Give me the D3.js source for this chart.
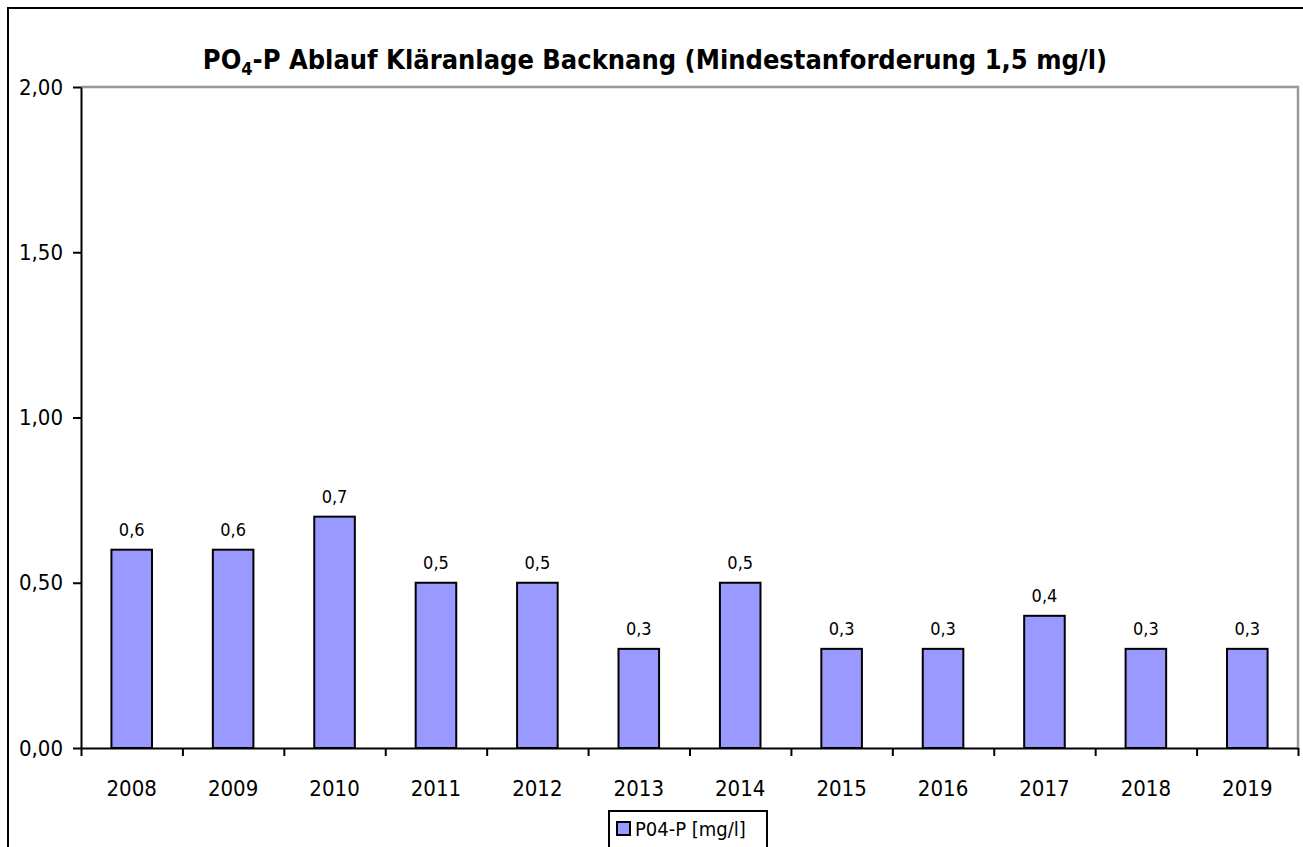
<!DOCTYPE html>
<html>
<head>
<meta charset="utf-8">
<script src="https://cdn.jsdelivr.net/npm/d3@7"></script>
<style>
  body { margin: 0; background: #fff; }
  svg { display: block; font-family: "DejaVu Sans Condensed", "DejaVu Sans", sans-serif; }
  .axis path, .axis line { stroke: #000; stroke-width: 2; }
</style>
</head>
<body>
<div id="chart"></div>
<script>
// values
const years = ['2008', '2009', '2010', '2011', '2012', '2013', '2014', '2015', '2016', '2017', '2018', '2019'];
const po4Values = [0.6, 0.6, 0.7, 0.5, 0.5, 0.3, 0.5, 0.3, 0.3, 0.4, 0.3, 0.3];
const yTicks = [0, 0.5, 1, 1.5, 2];
const seriesName = 'P04-P [mg/l]';

const width = 1303, height = 847;
const plot = { left: 81, right: 1298, top: 87, bottom: 748 };
const fontFam = '"DejaVu Sans Condensed", "DejaVu Sans", sans-serif';

const svg = d3.select('#chart').append('svg')
  .attr('width', width)
  .attr('height', height);

svg.append('rect').attr('width', width).attr('height', height).attr('fill', '#fff');

// outer chart frame (right and bottom edges fall outside the window)
svg.append('rect')
  .attr('x', 8).attr('y', 8)
  .attr('width', width + 10).attr('height', height + 10)
  .attr('fill', 'none').attr('stroke', '#000').attr('stroke-width', 2);

const x = d3.scaleBand().domain(years).range([plot.left, plot.right]).paddingInner(0.6).paddingOuter(0.3);
const xEdges = d3.scaleLinear().domain([0, years.length]).range([plot.left, plot.right]);
const y = d3.scaleLinear().domain([0, 2]).range([plot.bottom, plot.top]);

const fmt = v => d3.format('.2f')(v).replace('.', ',');
const fmt1 = v => d3.format('.1f')(v).replace('.', ',');

// gray plot area border on top and right
svg.append('path')
  .attr('d', `M${plot.left},${plot.top}H${plot.right}V${plot.bottom}`)
  .attr('fill', 'none').attr('stroke', '#999').attr('stroke-width', 2.5);

// bars
svg.append('g').selectAll('rect')
  .data(years)
  .join('rect')
  .attr('x', d => x(d))
  .attr('y', (d, i) => y(po4Values[i]))
  .attr('width', x.bandwidth())
  .attr('height', (d, i) => y(0) - y(po4Values[i]))
  .attr('fill', '#9999ff')
  .attr('stroke', '#000')
  .attr('stroke-width', 2);

// data labels
svg.append('g').selectAll('text')
  .data(years)
  .join('text')
  .attr('x', d => x(d) + x.bandwidth() / 2)
  .attr('y', (d, i) => y(po4Values[i]) - 14)
  .attr('text-anchor', 'middle')
  .attr('font-size', 18)
  .text((d, i) => fmt1(po4Values[i]));

// y axis
const yAxis = svg.append('g').attr('class', 'axis')
  .attr('transform', `translate(${plot.left},0)`)
  .call(d3.axisLeft(y).tickValues(yTicks).tickFormat(fmt).tickSize(8).tickSizeOuter(0).tickPadding(10));
yAxis.selectAll('text').attr('font-size', 22).attr('fill', '#000').attr('font-family', fontFam);

// x axis: ticks at category boundaries
svg.append('g').attr('class', 'axis')
  .attr('transform', `translate(0,${plot.bottom})`)
  .call(d3.axisBottom(xEdges).tickValues(d3.range(years.length + 1)).tickFormat('').tickSize(8).tickSizeOuter(0));

svg.append('g').selectAll('text')
  .data(years)
  .join('text')
  .attr('x', d => x(d) + x.bandwidth() / 2)
  .attr('y', plot.bottom + 48)
  .attr('text-anchor', 'middle')
  .attr('font-size', 22)
  .text(d => d);

// x axis title, mostly hidden behind the legend
svg.append('text')
  .attr('x', 680).attr('y', 829)
  .attr('text-anchor', 'middle')
  .attr('font-size', 22).attr('font-weight', 'bold')
  .text('Jahr');

// title
const title = svg.append('text')
  .attr('x', 655).attr('y', 69)
  .attr('text-anchor', 'middle')
  .attr('font-size', 27).attr('font-weight', 'bold');
title.append('tspan').text('PO');
title.append('tspan').attr('font-size', 18).attr('dy', 6).text('4');
title.append('tspan').attr('dy', -6).text('-P Ablauf Kläranlage Backnang (Mindestanforderung 1,5 mg/l)');

// legend
const legend = svg.append('g').attr('transform', 'translate(609,811)');
legend.append('rect')
  .attr('width', 158).attr('height', 50)
  .attr('fill', '#fff').attr('stroke', '#000').attr('stroke-width', 2);
legend.append('rect')
  .attr('x', 8).attr('y', 11).attr('width', 13).attr('height', 13)
  .attr('fill', '#9999ff').attr('stroke', '#000').attr('stroke-width', 2);
legend.append('text')
  .attr('x', 26).attr('y', 25)
  .attr('font-size', 20)
  .text(seriesName);
</script>
</body>
</html>
